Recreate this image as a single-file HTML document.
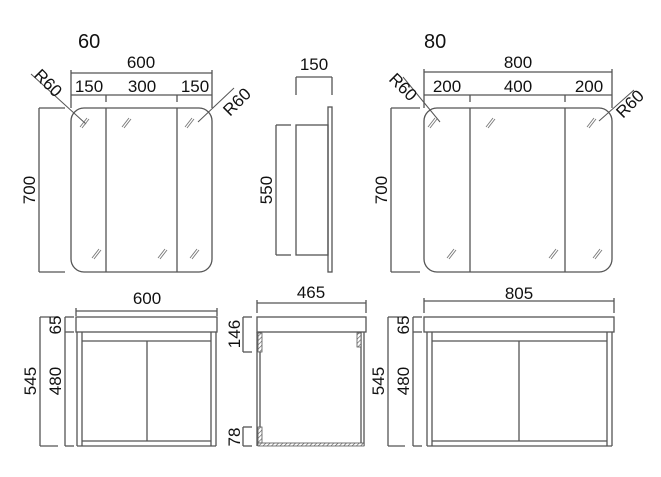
<!DOCTYPE html>
<html><head><meta charset="utf-8"><style>
html,body{margin:0;padding:0;background:#fff;width:661px;height:477px;overflow:hidden}
svg{display:block}
text{font-family:"Liberation Sans",sans-serif;font-size:17px;fill:#111}
</style></head><body>
<svg width="661" height="477" viewBox="0 0 661 477" xmlns="http://www.w3.org/2000/svg">
<defs>
<pattern id="h" width="3" height="3" patternUnits="userSpaceOnUse" patternTransform="rotate(45)">
<rect width="3" height="3" fill="#fff"/><line x1="0" y1="0" x2="0" y2="3" stroke="#555" stroke-width="1.2"/>
</pattern>
<g id="gl" stroke="#777" stroke-width="0.9"><line x1="-4" y1="5" x2="3" y2="-4"/><line x1="-2" y1="6" x2="5" y2="-3"/></g>
</defs>
<g fill="none" stroke="#555" stroke-width="1.3">
<rect x="71" y="108" width="141" height="164" rx="13"/>
<line x1="106" y1="108" x2="106" y2="272"/><line x1="177" y1="108" x2="177" y2="272"/>
<line x1="71" y1="73" x2="212" y2="73"/><line x1="71" y1="70" x2="71" y2="108"/><line x1="212" y1="70" x2="212" y2="108"/>
<line x1="71" y1="95" x2="212" y2="95"/><line x1="106" y1="95" x2="106" y2="102"/><line x1="177" y1="95" x2="177" y2="102"/>
<line x1="39" y1="108" x2="39" y2="272"/><line x1="39" y1="108" x2="65" y2="108"/><line x1="39" y1="272" x2="65" y2="272"/>
<line x1="31" y1="74" x2="86" y2="124" stroke-width="1"/>
<line x1="234" y1="88" x2="198" y2="122" stroke-width="1"/>
<rect x="328" y="107" width="4" height="165"/>
<rect x="296" y="125" width="32" height="130"/>
<line x1="276" y1="125" x2="276" y2="255"/><line x1="276" y1="125" x2="291" y2="125"/><line x1="276" y1="255" x2="291" y2="255"/>
<line x1="296" y1="77" x2="332" y2="77"/><line x1="296" y1="77" x2="296" y2="95"/><line x1="332" y1="77" x2="332" y2="95"/>
<rect x="424" y="108" width="188" height="164" rx="13"/>
<line x1="470" y1="108" x2="470" y2="272"/><line x1="565" y1="108" x2="565" y2="272"/>
<line x1="424" y1="72" x2="612" y2="72"/><line x1="424" y1="69" x2="424" y2="108"/><line x1="612" y1="69" x2="612" y2="108"/>
<line x1="424" y1="95" x2="612" y2="95"/><line x1="470" y1="95" x2="470" y2="102"/><line x1="565" y1="95" x2="565" y2="102"/>
<line x1="391" y1="108" x2="391" y2="272"/><line x1="391" y1="108" x2="420" y2="108"/><line x1="391" y1="272" x2="420" y2="272"/>
<line x1="403" y1="77" x2="440" y2="122" stroke-width="1"/>
<line x1="634" y1="90" x2="599" y2="121" stroke-width="1"/>
<line x1="76" y1="311" x2="217" y2="311"/><line x1="76" y1="308" x2="76" y2="316"/><line x1="217" y1="308" x2="217" y2="316"/>
<rect x="76" y="317" width="141" height="15"/>
<line x1="77" y1="332" x2="77" y2="446"/><line x1="216" y1="332" x2="216" y2="446"/>
<line x1="82" y1="332" x2="82" y2="446"/><line x1="211" y1="332" x2="211" y2="446"/>
<line x1="77" y1="446" x2="216" y2="446"/>
<line x1="82" y1="341" x2="211" y2="341"/><line x1="82" y1="441" x2="211" y2="441"/>
<line x1="147" y1="341" x2="147" y2="441"/>
<line x1="40" y1="317" x2="40" y2="446"/><line x1="40" y1="317" x2="58" y2="317"/><line x1="40" y1="446" x2="58" y2="446"/>
<line x1="65" y1="317" x2="65" y2="446"/><line x1="65" y1="317" x2="74" y2="317"/><line x1="65" y1="332" x2="74" y2="332"/><line x1="65" y1="446" x2="74" y2="446"/>
<line x1="257" y1="303" x2="366" y2="303"/><line x1="257" y1="300" x2="257" y2="313"/><line x1="366" y1="300" x2="366" y2="313"/>
<rect x="257" y="317" width="109" height="15"/>
<line x1="257" y1="332" x2="257" y2="446"/><line x1="260" y1="332" x2="260" y2="443"/>
<line x1="364" y1="332" x2="364" y2="446"/><line x1="361" y1="332" x2="361" y2="443"/>
<line x1="243" y1="317" x2="243" y2="352"/><line x1="243" y1="317" x2="252" y2="317"/><line x1="243" y1="352" x2="252" y2="352"/>
<line x1="243" y1="427" x2="243" y2="446"/><line x1="243" y1="427" x2="252" y2="427"/><line x1="243" y1="446" x2="252" y2="446"/>
<line x1="424" y1="301" x2="614" y2="301"/><line x1="424" y1="298" x2="424" y2="313"/><line x1="614" y1="298" x2="614" y2="313"/>
<rect x="424" y="317" width="190" height="15"/>
<line x1="427" y1="332" x2="427" y2="446"/><line x1="612" y1="332" x2="612" y2="446"/>
<line x1="432" y1="332" x2="432" y2="446"/><line x1="607" y1="332" x2="607" y2="446"/>
<line x1="427" y1="446" x2="612" y2="446"/>
<line x1="432" y1="341" x2="607" y2="341"/><line x1="432" y1="441" x2="607" y2="441"/>
<line x1="519" y1="341" x2="519" y2="441"/>
<line x1="388" y1="317" x2="388" y2="446"/><line x1="388" y1="317" x2="405" y2="317"/><line x1="388" y1="446" x2="405" y2="446"/>
<line x1="413" y1="317" x2="413" y2="446"/><line x1="413" y1="317" x2="422" y2="317"/><line x1="413" y1="332" x2="422" y2="332"/><line x1="413" y1="446" x2="422" y2="446"/>
</g>
<g stroke="#555" stroke-width="0.8" fill="url(#h)">
<rect x="258" y="333" width="4" height="19"/>
<rect x="357" y="333" width="4" height="14"/>
<rect x="258" y="427" width="4" height="16"/>
<rect x="258" y="443" width="106" height="3"/>
</g>
<use href="#gl" x="84" y="122"/><use href="#gl" x="126" y="122"/><use href="#gl" x="189" y="122"/>
<use href="#gl" x="96" y="253"/><use href="#gl" x="162" y="253"/><use href="#gl" x="194" y="253"/>
<use href="#gl" x="432" y="122"/><use href="#gl" x="490" y="122"/><use href="#gl" x="591" y="122"/>
<use href="#gl" x="451" y="253"/><use href="#gl" x="553" y="253"/><use href="#gl" x="597" y="253"/>
<text x="78" y="48" style="font-size:20px">60</text>
<text x="424" y="48" style="font-size:20px">80</text>
<text x="141" y="68" text-anchor="middle">600</text>
<text x="89" y="92" text-anchor="middle">150</text>
<text x="142" y="92" text-anchor="middle">300</text>
<text x="195" y="92" text-anchor="middle">150</text>
<text x="518" y="68" text-anchor="middle">800</text>
<text x="447" y="92" text-anchor="middle">200</text>
<text x="518" y="92" text-anchor="middle">400</text>
<text x="589" y="92" text-anchor="middle">200</text>
<text x="314" y="70" text-anchor="middle">150</text>
<text transform="translate(35,190) rotate(-90)" text-anchor="middle">700</text>
<text transform="translate(387,190) rotate(-90)" text-anchor="middle">700</text>
<text transform="translate(272,190) rotate(-90)" text-anchor="middle">550</text>
<text transform="translate(44,87) rotate(45)" text-anchor="middle">R60</text>
<text transform="translate(241,106) rotate(-45)" text-anchor="middle">R60</text>
<text transform="translate(399,91) rotate(45)" text-anchor="middle">R60</text>
<text transform="translate(634,108) rotate(-45)" text-anchor="middle">R60</text>
<text x="147" y="304" text-anchor="middle">600</text>
<text x="311" y="298" text-anchor="middle">465</text>
<text x="519" y="299" text-anchor="middle">805</text>
<text transform="translate(36,381) rotate(-90)" text-anchor="middle">545</text>
<text transform="translate(61,381) rotate(-90)" text-anchor="middle">480</text>
<text transform="translate(61,325) rotate(-90)" text-anchor="middle">65</text>
<text transform="translate(240,334) rotate(-90)" text-anchor="middle">146</text>
<text transform="translate(240,437) rotate(-90)" text-anchor="middle">78</text>
<text transform="translate(384,381) rotate(-90)" text-anchor="middle">545</text>
<text transform="translate(409,381) rotate(-90)" text-anchor="middle">480</text>
<text transform="translate(409,325) rotate(-90)" text-anchor="middle">65</text>
</svg>
</body></html>
